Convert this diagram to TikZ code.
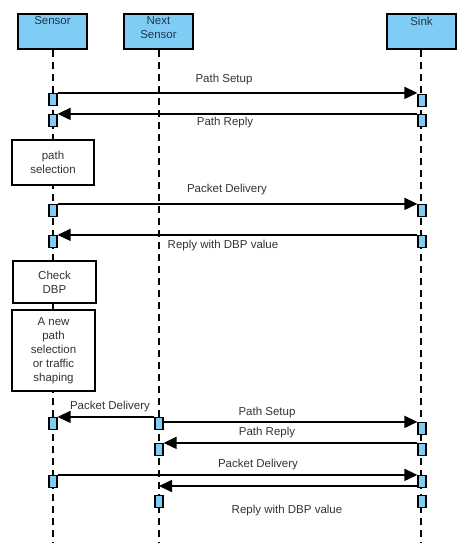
\documentclass[tikz,border=0pt]{standalone}
\usepackage{fontspec}
\setmainfont{Liberation Sans}
\usetikzlibrary{arrows.meta,calc}
\definecolor{actblue}{RGB}{127,205,244}
\definecolor{txtgray}{RGB}{51,51,51}
\definecolor{hdrtxt}{RGB}{35,50,75}
\begin{document}
\begin{tikzpicture}[x=1pt,y=-1pt,
  font=\fontsize{11.5}{14}\selectfont,
  hdr/.style={draw=black, line width=1.6pt, fill=actblue, minimum width=69pt, minimum height=35pt, inner sep=0pt},
  act/.style={draw=black, line width=1.2pt, fill=actblue, minimum width=8pt, minimum height=12pt, inner sep=0pt},
  proc/.style={draw=black, line width=1.6pt, fill=white, inner sep=0pt, align=center, text=txtgray},
  life/.style={line width=1.4pt, dash pattern=on 7pt off 5pt},
  msg/.style={line width=1.6pt, -{Triangle[length=13pt,width=12pt]}},
  lbl/.style={text=txtgray, inner sep=0pt, align=center},
  hlbl/.style={text=hdrtxt, inner sep=0pt, align=center}
]
\useasboundingbox (0,0) rectangle (465,550);

% header boxes
\node[hdr] (sensor) at (52.5,31.5) {};
\node[hdr] (next) at (158.5,31.5) {};
\node[hdr] (sink) at (421.5,31.5) {};
\node[hlbl, anchor=north] (tsensor) at ($(sensor.north)+(0,3.5)$) {Sensor};
\node[hlbl, anchor=north] (tnext) at ($(next.north)+(0,3.5)$) {Next\\Sensor};
\node[hlbl, anchor=north] (tsink) at ($(sink.north)+(0,3.5)$) {Sink};

% lifelines
\draw[life] (sensor.south -| 53,0) -- (53,542);
\draw[life] (next.south -| 159,0) -- (159,542);
\draw[life] (sink.south -| 421,0) -- (421,542);

% process boxes
\node[proc, minimum width=82pt, minimum height=45pt] (psel) at (53,162.5) {path\\selection};
\node[proc, minimum width=83pt, minimum height=42pt] (check) at (54.5,282) {Check\\DBP};
\node[proc, minimum width=83pt, minimum height=81pt] (newp) at (53.5,350.5) {A new\\path\\selection\\or traffic\\shaping};

% activation boxes
\node[act] (S1) at (53,99.5) {};
\node[act] (K1) at (422,100.5) {};
\node[act] (S2) at (53,120.5) {};
\node[act] (K2) at (422,120.5) {};
\node[act] (S3) at (53,210.5) {};
\node[act] (K3) at (422,210.5) {};
\node[act] (S4) at (53,241.5) {};
\node[act] (K4) at (422,241.5) {};
\node[act] (S5) at (53,423.5) {};
\node[act] (N1) at (159,423.5) {};
\node[act] (K5) at (422,428.5) {};
\node[act] (N2) at (159,449.5) {};
\node[act] (K6) at (422,449.5) {};
\node[act] (S6) at (53,481.5) {};
\node[act] (K7) at (422,481.5) {};
\node[act] (N3) at (159,501.5) {};
\node[act] (K8) at (422,501.5) {};
\coordinate (r9) at (159,486);

% messages
\draw[msg] (S1.north east) -- (S1.north east -| K1.west);
\draw[msg] (K2.north west) -- (K2.north west -| S2.east);
\draw[msg] (S3.north east) -- (S3.north east -| K3.west);
\draw[msg] (K4.north west) -- (K4.north west -| S4.east);
\draw[msg] (N1.north west) -- (N1.north west -| S5.east);
\draw[msg] (N1.east |- K5.north) -- (K5.north west);
\draw[msg] (K6.north west) -- (K6.north west -| N2.east);
\draw[msg] (S6.north east) -- (S6.north east -| K7.west);
\draw[msg] (K7.west |- r9) -- (r9);

% labels
\node[lbl] (l1) at (224,80) {Path Setup};
\node[lbl] (l2) at (225,123) {Path Reply};
\node[lbl] (l3) at (227,190) {Packet Delivery};
\node[lbl] (l4) at (223,246) {Reply with DBP value};
\node[lbl] (l5) at (110,407) {Packet Delivery};
\node[lbl] (l6) at (267,413) {Path Setup};
\node[lbl] (l7) at (267,433) {Path Reply};
\node[lbl] (l8) at (258,465) {Packet Delivery};
\node[lbl] (l9) at (287,511) {Reply with DBP value};
\end{tikzpicture}
\end{document}
